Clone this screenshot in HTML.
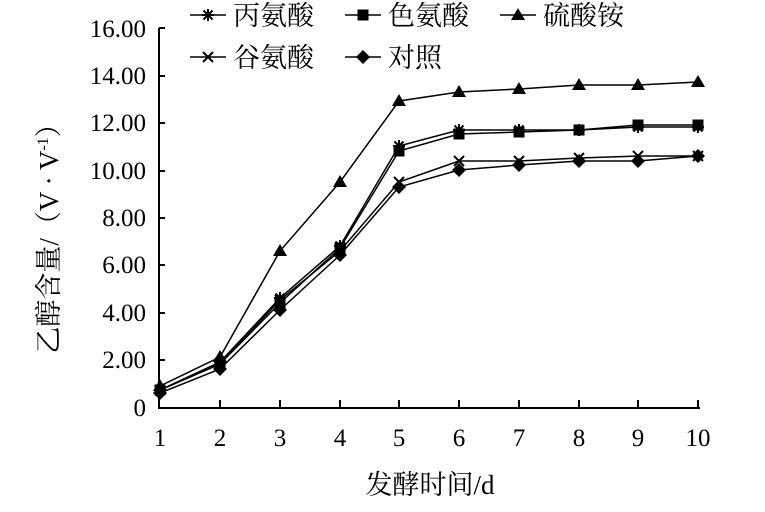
<!DOCTYPE html>
<html><head><meta charset="utf-8"><style>
html,body{margin:0;padding:0;background:#fff;}
text{font-family:"Liberation Serif","Noto Serif CJK SC",serif;fill:#000;}
</style></head><body>
<svg width="765" height="507" viewBox="0 0 765 507" xmlns="http://www.w3.org/2000/svg">
<defs>
<g id="ast"><path d="M-6,0H6M0,-6V6M-4.5,-4.5L4.5,4.5M-4.5,4.5L4.5,-4.5" stroke="#000" stroke-width="2"/></g>
<g id="xx"><path d="M-5,-5L5,5M-5,5L5,-5" stroke="#000" stroke-width="2"/></g>
<g id="sq"><rect x="-5.5" y="-5.5" width="11" height="11" fill="#000"/></g>
<g id="tri"><path d="M0,-7L7,5H-7Z" fill="#000"/></g>
<g id="dia"><path d="M0,-7L7,0L0,7L-7,0Z" fill="#000"/></g>
</defs>
<g stroke="#000" stroke-width="2" fill="none">
<path d="M159,28V408H700"/>
<path d="M159,28h6M159,76h6M159,123h6M159,171h6M159,218h6M159,265h6M159,313h6M159,360h6"/>
<path d="M220,408v-8M280,408v-8M340,408v-8M399,408v-8M459,408v-8M519,408v-8M579,408v-8M638,408v-8M698,408v-8"/>
</g>
<g font-size="25" text-anchor="end">
<text x="146" y="37">16.00</text><text x="146" y="84">14.00</text><text x="146" y="131">12.00</text>
<text x="146" y="179">10.00</text><text x="146" y="226">8.00</text><text x="146" y="273">6.00</text>
<text x="146" y="321">4.00</text><text x="146" y="368">2.00</text><text x="146" y="416">0</text>
</g>
<g font-size="25" text-anchor="middle">
<text x="160" y="446">1</text><text x="220" y="446">2</text><text x="280" y="446">3</text><text x="340" y="446">4</text>
<text x="399" y="446">5</text><text x="459" y="446">6</text><text x="519" y="446">7</text><text x="579" y="446">8</text>
<text x="638" y="446">9</text><text x="698" y="446">10</text>
</g>
<text x="430" y="494" font-size="27" text-anchor="middle">发酵时间/d</text>
<text transform="translate(58,232) rotate(-90)" font-size="27" text-anchor="middle">乙醇含量/（V · V<tspan font-size="16" dy="-10">-1</tspan><tspan dy="10">）</tspan></text>
<g fill="none" stroke="#000" stroke-width="1.5">
<polyline points="160,386 220,357 280,251 340,182 399,101 459,92 519,89 579,85 638,85 698,82"/>
<polyline points="160,390 220,364 280,303 340,248 399,151 459,134 519,132 579,130 638,125 698,125"/>
<polyline points="160,390 220,362 280,298 340,246 399,146 459,130 519,130 579,130 638,127 698,127"/>
<polyline points="160,390 220,364 280,300 340,251 399,182 459,161 519,161 579,158 638,156 698,156"/>
<polyline points="160,393 220,369 280,310 340,255 399,187 459,170 519,165 579,161 638,161 698,156"/>
</g>
<g>
<use href="#tri" x="160" y="386"/><use href="#tri" x="220" y="357"/><use href="#tri" x="280" y="251"/><use href="#tri" x="340" y="182"/><use href="#tri" x="399" y="101"/><use href="#tri" x="459" y="92"/><use href="#tri" x="519" y="89"/><use href="#tri" x="579" y="85"/><use href="#tri" x="638" y="85"/><use href="#tri" x="698" y="82"/>
<use href="#sq" x="160" y="390"/><use href="#sq" x="220" y="364"/><use href="#sq" x="280" y="303"/><use href="#sq" x="340" y="248"/><use href="#sq" x="399" y="151"/><use href="#sq" x="459" y="134"/><use href="#sq" x="519" y="132"/><use href="#sq" x="579" y="130"/><use href="#sq" x="638" y="125"/><use href="#sq" x="698" y="125"/>
<use href="#ast" x="160" y="390"/><use href="#ast" x="220" y="362"/><use href="#ast" x="280" y="298"/><use href="#ast" x="340" y="246"/><use href="#ast" x="399" y="146"/><use href="#ast" x="459" y="130"/><use href="#ast" x="519" y="130"/><use href="#ast" x="579" y="130"/><use href="#ast" x="638" y="127"/><use href="#ast" x="698" y="127"/>
<use href="#xx" x="160" y="390"/><use href="#xx" x="220" y="364"/><use href="#xx" x="280" y="300"/><use href="#xx" x="340" y="251"/><use href="#xx" x="399" y="182"/><use href="#xx" x="459" y="161"/><use href="#xx" x="519" y="161"/><use href="#xx" x="579" y="158"/><use href="#xx" x="638" y="156"/><use href="#xx" x="698" y="156"/>
<use href="#dia" x="160" y="393"/><use href="#dia" x="220" y="369"/><use href="#dia" x="280" y="310"/><use href="#dia" x="340" y="255"/><use href="#dia" x="399" y="187"/><use href="#dia" x="459" y="170"/><use href="#dia" x="519" y="165"/><use href="#dia" x="579" y="161"/><use href="#dia" x="638" y="161"/><use href="#dia" x="698" y="156"/>
</g>
<g stroke="#000" stroke-width="1.5">
<path d="M190,15H226M345,15H381M500,15H536M190,57H226M345,57H381"/>
</g>
<use href="#ast" x="208" y="15"/><use href="#sq" x="363" y="15"/><use href="#tri" x="518" y="15"/>
<use href="#xx" x="208" y="57"/><use href="#dia" x="363" y="57"/>
<g font-size="27">
<text x="233" y="25">丙氨酸</text><text x="388" y="25">色氨酸</text><text x="543" y="25">硫酸铵</text>
<text x="233" y="67">谷氨酸</text><text x="388" y="67">对照</text>
</g>
</svg>
</body></html>
